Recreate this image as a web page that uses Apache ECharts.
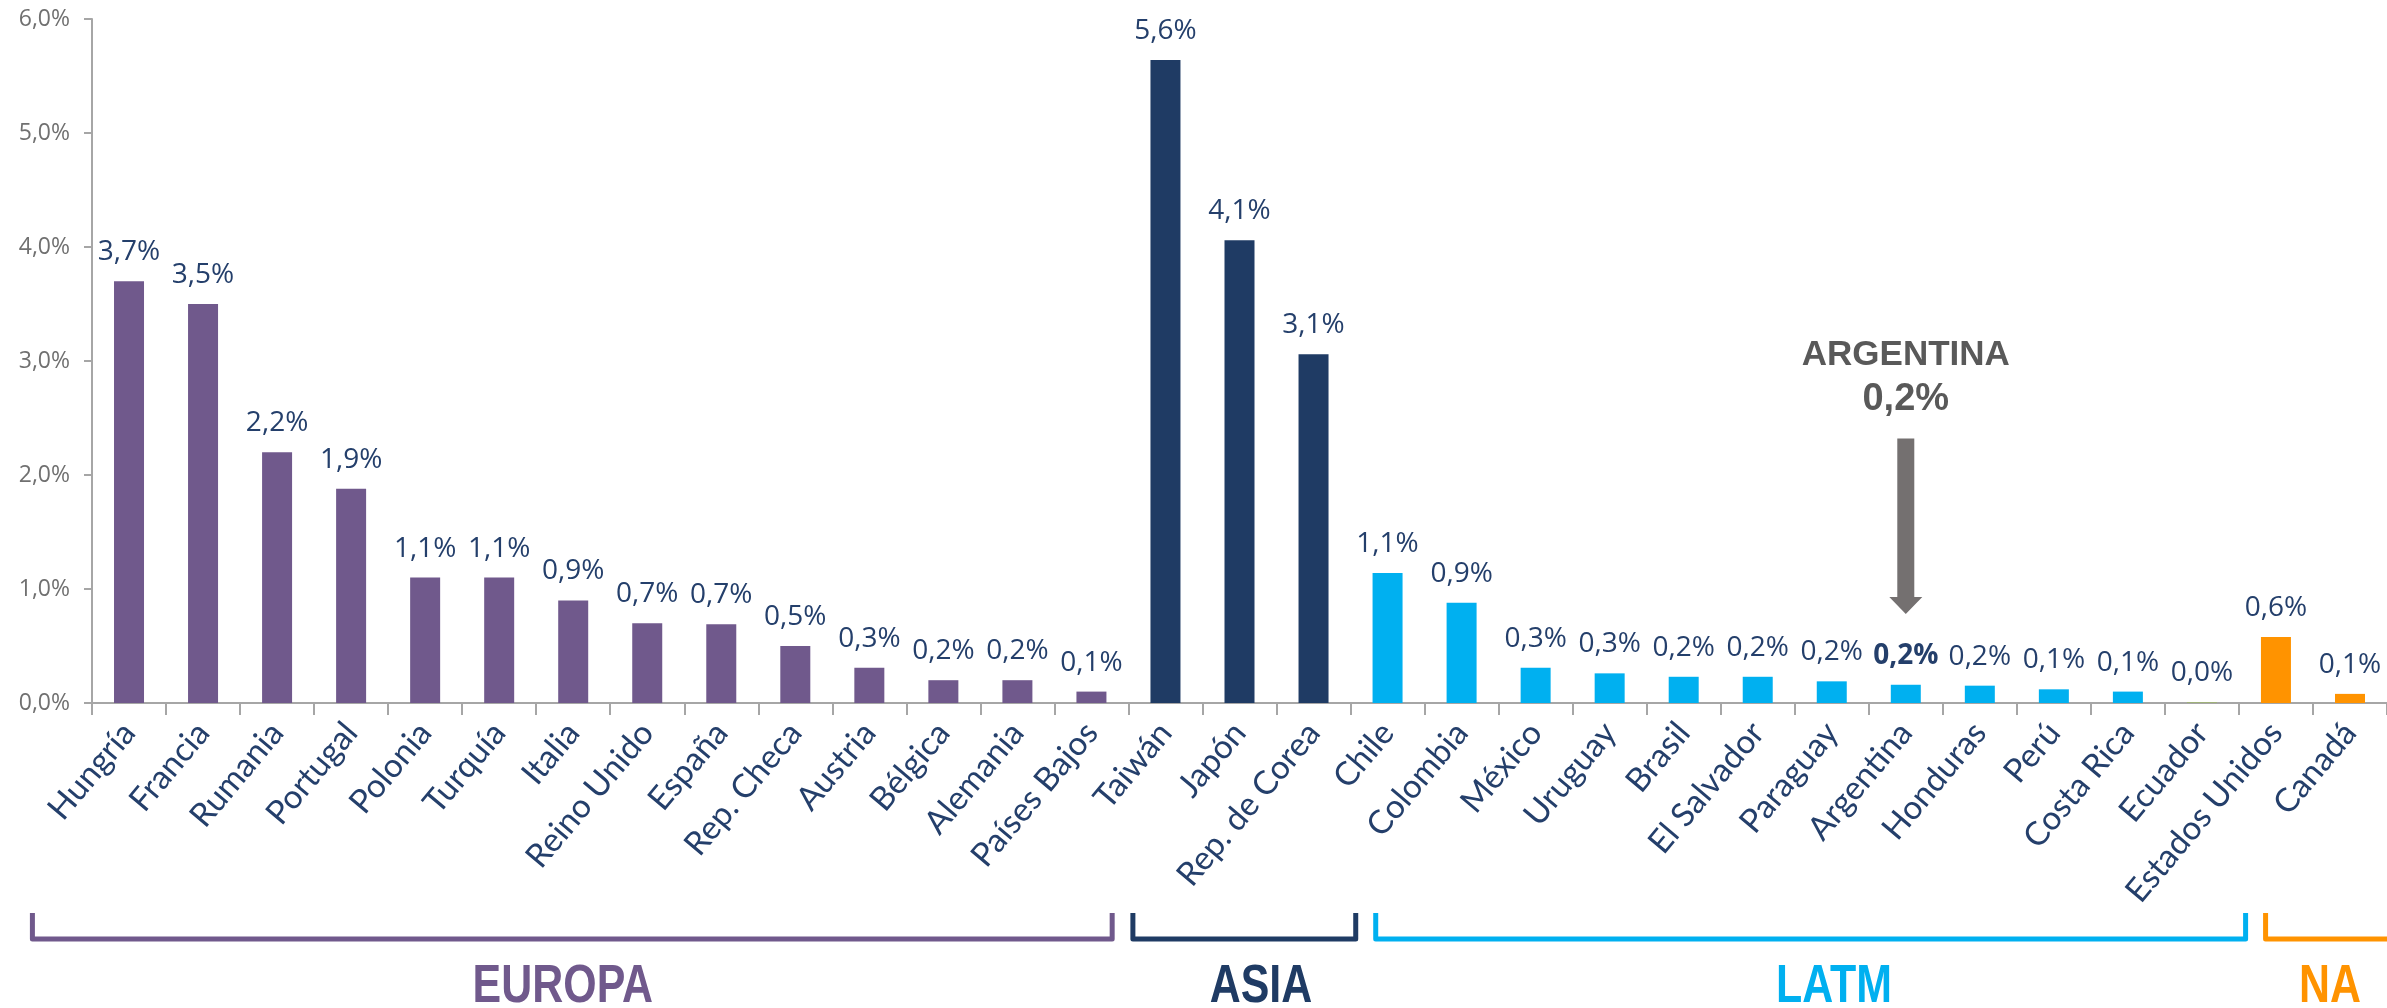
<!DOCTYPE html>
<html>
<head>
<meta charset="utf-8">
<script src="https://cdn.jsdelivr.net/npm/echarts@6/dist/echarts.min.js"></script>
<style>
  html, body { margin: 0; padding: 0; background: #ffffff; }
  #chart { width: 2387px; height: 1008px; }
</style>
</head>
<body>
<div id="chart"></div>
<script>
// ---------- data ----------
const categories = ['Hungría','Francia','Rumania','Portugal','Polonia','Turquía','Italia','Reino Unido','España','Rep. Checa','Austria','Bélgica','Alemania','Países Bajos',
  'Taiwán','Japón','Rep. de Corea',
  'Chile','Colombia','México','Uruguay','Brasil','El Salvador','Paraguay','Argentina','Honduras','Perú','Costa Rica','Ecuador',
  'Estados Unidos','Canadá'];
const values = [3.70,3.50,2.20,1.88,1.10,1.10,0.90,0.70,0.69,0.50,0.31,0.20,0.20,0.10,
  5.64,4.06,3.06,
  1.14,0.88,0.31,0.26,0.23,0.23,0.19,0.16,0.152,0.12,0.10,0.005,
  0.58,0.08];
const yTicks = [0,1,2,3,4,5,6];
const groupNames = ['EUROPA','ASIA','LATM','NA'];
const groupFirst = [0,14,17,29];
const groupLast = [13,16,28,30];
const highlight = 'Argentina';

// ---------- style ----------
const groupColors = ['#70598C','#1F3B64','#00B0F0','#FF9300'];
const zeroColor = '#9BBB59';
const labelColor = '#243F6B';
const fmt = v => v.toFixed(1).replace('.', ',') + '%';

function groupIndexOf(i) {
  for (let g = 0; g < groupFirst.length; g++) if (i >= groupFirst[g] && i <= groupLast[g]) return g;
  return 0;
}

const seriesData = values.map((v, i) => {
  const item = { value: v, itemStyle: { color: v < 0.01 ? zeroColor : groupColors[groupIndexOf(i)] } };
  if (categories[i] === highlight) item.label = { fontWeight: 'bold' };
  return item;
});

const chart = echarts.init(document.getElementById('chart'), null, { renderer: 'canvas' });
chart.setOption({
  animation: false,
  backgroundColor: '#ffffff',
  grid: { left: 92, top: 19, width: 2298, height: 684, containLabel: false },
  xAxis: {
    type: 'category',
    data: categories,
    axisLine: { lineStyle: { color: '#A6A6A6', width: 2 } },
    axisTick: { show: true, alignWithLabel: false, length: 12, lineStyle: { color: '#A6A6A6', width: 2 } },
    axisLabel: { rotate: 50, interval: 0, margin: 24, fontFamily: 'Lato', fontSize: 33, color: labelColor }
  },
  yAxis: {
    type: 'value',
    min: yTicks[0], max: yTicks[yTicks.length - 1], interval: 1,
    axisLine: { show: true, lineStyle: { color: '#A6A6A6', width: 2 } },
    axisTick: { show: true, length: 8, lineStyle: { color: '#A6A6A6', width: 2 } },
    splitLine: { show: false },
    axisLabel: { margin: 22, fontFamily: 'Open Sans', fontSize: 23, color: '#707070', formatter: v => fmt(v) }
  },
  series: [{
    type: 'bar',
    data: seriesData,
    barWidth: 30,
    label: { show: true, position: 'top', distance: 15, fontFamily: 'Open Sans', fontSize: 28, color: labelColor,
      formatter: p => fmt(p.value) }
  }]
});

// ---------- annotations computed from the axes ----------
const x0 = chart.convertToPixel({ xAxisIndex: 0 }, 0);
const x1 = chart.convertToPixel({ xAxisIndex: 0 }, 1);
const bw = x1 - x0;
const uToPx = u => x0 - bw / 2 + u * bw;       // u in category units from left edge
const yPx = v => chart.convertToPixel({ yAxisIndex: 0 }, v);

// bracket spans (category units) and label centres, as drawn in the original
const bracketStart = [-0.805, 14.06, 17.34, 29.36];
const bracketEnd = [13.78, 17.07, 29.09, 31.8];
const textCenter = [6.36, 15.79, 23.53, 30.23];
const bracketTop = 913, bracketBottom = 939, groupTextY = 987;

const graphics = [];
groupNames.forEach((name, g) => {
  const a = uToPx(bracketStart[g]), b = uToPx(bracketEnd[g]);
  const pts = g === groupNames.length - 1
    ? [[a, bracketTop], [a, bracketBottom], [b, bracketBottom]]
    : [[a, bracketTop], [a, bracketBottom], [b, bracketBottom], [b, bracketTop]];
  graphics.push({ type: 'polyline', shape: { points: pts }, style: { stroke: groupColors[g], lineWidth: 5, lineJoin: 'round', fill: null } });
  graphics.push({ type: 'text', x: uToPx(textCenter[g]), y: groupTextY, scaleX: 0.81,
    style: { text: name, fill: groupColors[g], font: 'bold 53px "Liberation Sans", Arial, sans-serif', align: 'center', verticalAlign: 'middle' } });
});

// arrow for highlighted country
const hi = categories.indexOf(highlight);
const ax = chart.convertToPixel({ xAxisIndex: 0 }, hi);
const shaftTop = yPx(2.32), headTop = yPx(0.93), tip = yPx(0.78);
graphics.push({ type: 'polygon', shape: { points: [
  [ax - 8.5, shaftTop], [ax + 8.5, shaftTop], [ax + 8.5, headTop], [ax + 16.5, headTop],
  [ax, tip], [ax - 16.5, headTop], [ax - 8.5, headTop] ] }, style: { fill: '#747070' } });
graphics.push({ type: 'text', x: ax, y: yPx(3.05), style: { text: highlight.toUpperCase(), fill: '#595959',
  font: 'bold 35px "Liberation Sans", Arial, sans-serif', align: 'center', verticalAlign: 'middle' } });
graphics.push({ type: 'text', x: ax, y: yPx(2.66), style: { text: fmt(values[hi]), fill: '#595959',
  font: 'bold 38px "Liberation Sans", Arial, sans-serif', align: 'center', verticalAlign: 'middle' } });

chart.setOption({ graphic: graphics });
</script>
</body>
</html>
